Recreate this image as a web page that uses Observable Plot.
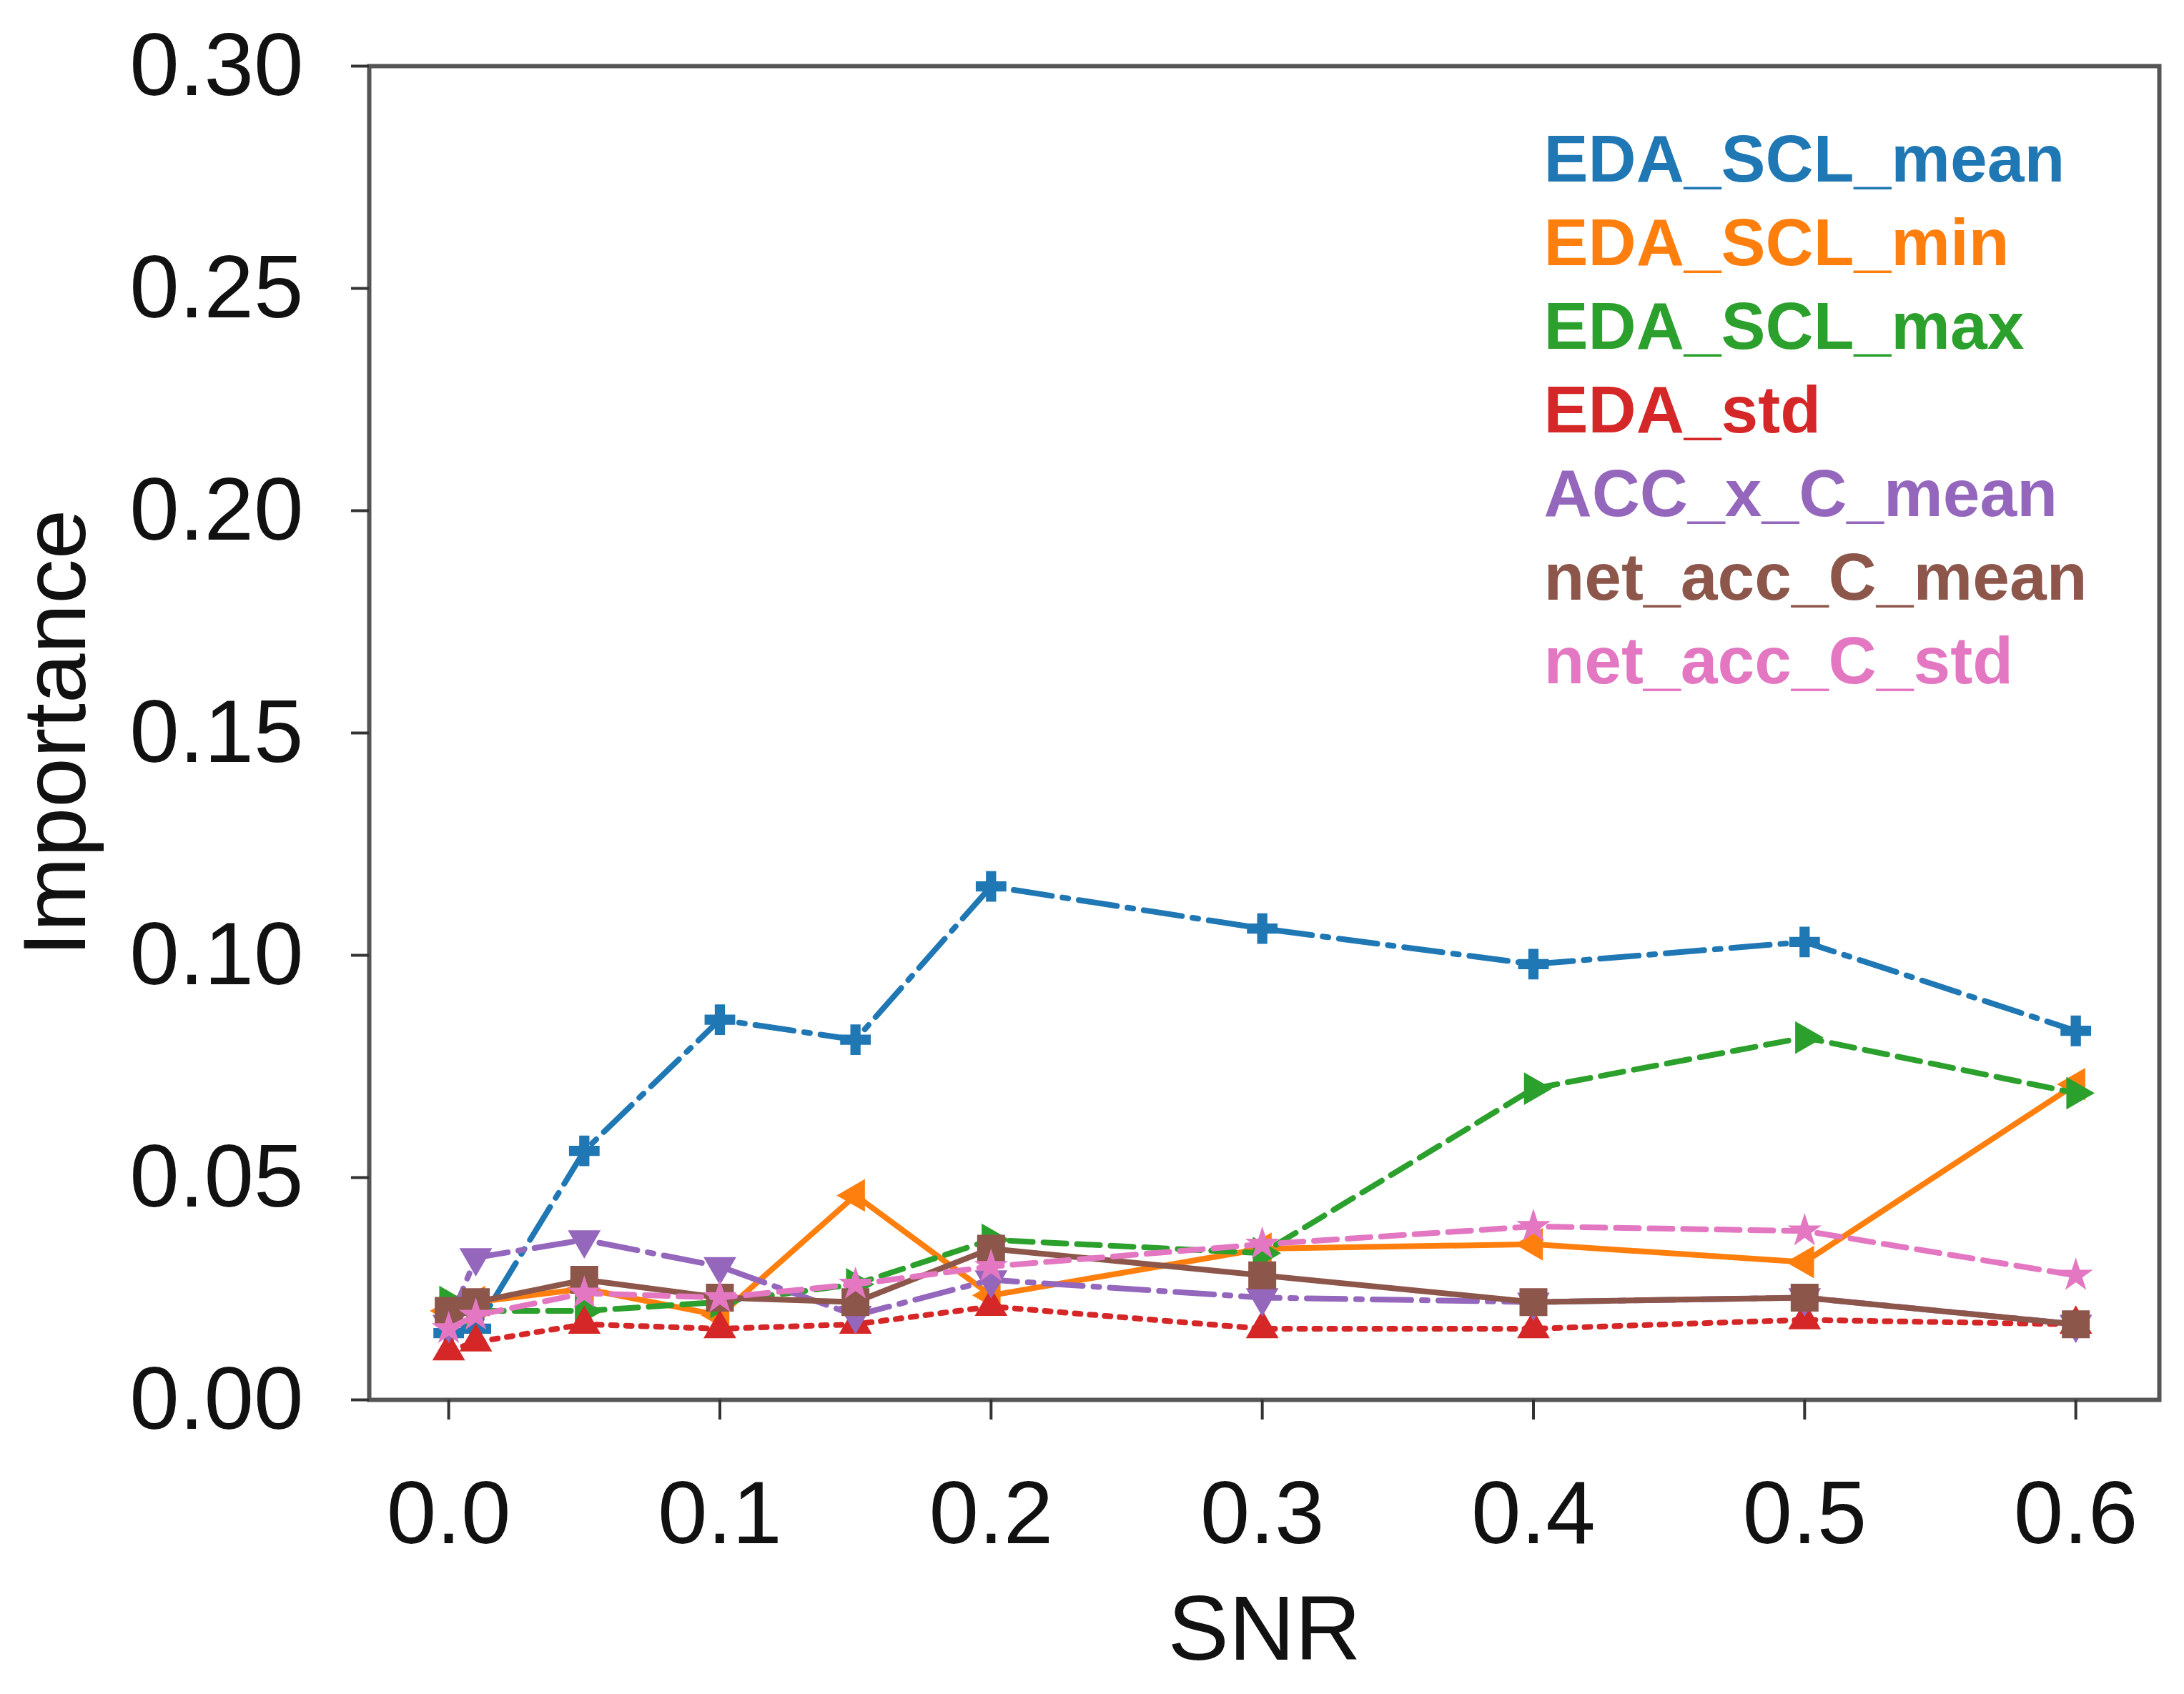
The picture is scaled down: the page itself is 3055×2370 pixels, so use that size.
<!DOCTYPE html>
<html>
<head>
<meta charset="utf-8">
<script src="https://cdn.jsdelivr.net/npm/d3@7"></script>
<script src="https://cdn.jsdelivr.net/npm/@observablehq/plot@0.6"></script>
<style>
  body { margin: 0; background: #fff; }
</style>
</head>
<body>
<div id="chart"></div>
<script>
// SNR levels on the x axis
const snr = [0, 0.01, 0.05, 0.1, 0.15, 0.2, 0.3, 0.4, 0.5, 0.6];

const seriesNames = ["EDA_SCL_mean", "EDA_SCL_min", "EDA_SCL_max", "EDA_std",
  "ACC_x_C_mean", "net_acc_C_mean", "net_acc_C_std"];

// importance values
const EDA_SCL_mean   = [0.015, 0.016, 0.056, 0.0855, 0.081, 0.1155, 0.106, 0.098, 0.103, 0.083];
const EDA_SCL_min    = [0.020, 0.022, 0.025, 0.019, 0.046, 0.0235, 0.034, 0.035, 0.031, 0.071];
const EDA_SCL_max    = [0.022, 0.020, 0.020, 0.022, 0.026, 0.036, 0.033, 0.070, 0.0815, 0.069];
const EDA_std        = [0.011, 0.013, 0.017, 0.016, 0.017, 0.021, 0.016, 0.016, 0.018, 0.017];
const ACC_x_C_mean   = [0.017, 0.032, 0.036, 0.030, 0.019, 0.027, 0.023, 0.022, 0.023, 0.017];
const net_acc_C_mean = [0.020, 0.022, 0.027, 0.023, 0.022, 0.034, 0.028, 0.022, 0.023, 0.017];
const net_acc_C_std  = [0.016, 0.019, 0.024, 0.023, 0.026, 0.030, 0.035, 0.039, 0.038, 0.028];

const values = [EDA_SCL_mean, EDA_SCL_min, EDA_SCL_max, EDA_std,
  ACC_x_C_mean, net_acc_C_mean, net_acc_C_std];

const xTicks = [0, 0.1, 0.2, 0.3, 0.4, 0.5, 0.6];
const yTicks = [0, 0.05, 0.10, 0.15, 0.20, 0.25, 0.30];

// styles (matplotlib tab10 look)
const colors = ["#1f77b4", "#ff7f0e", "#2ca02c", "#d62728", "#9467bd", "#8c564b", "#e377c2"];
const dashes = ["54,15,8,15", null, "32,15", "8,13", "54,15,8,15", null, "32,15"];
const symbols = ["cross", "triangle", "triangle", "triangle", "triangle", "square", "star"];
const rotations = [0, -90, 90, 0, 180, 0, 0];
const radius = [18, 17, 17, 17, 17, 22, 15];

const rows = seriesNames.flatMap((name, i) =>
  snr.map((x, j) => ({series: name, snr: x, importance: values[i][j]})));

const marks = [
  Plot.frame({stroke: "#555", strokeWidth: 6}),
  Plot.axisX({ticks: xTicks, tickFormat: ".1f", tickSize: 28, tickPadding: 84,
    fontSize: 125, stroke: "#333", strokeWidth: 4, label: null}),
  Plot.axisY({ticks: yTicks, tickFormat: ".2f", tickSize: 25, tickPadding: 67,
    fontSize: 125, stroke: "#333", strokeWidth: 4, label: null})
];

seriesNames.forEach((name, i) => {
  const d = rows.filter(r => r.series === name);
  marks.push(Plot.line(d, {
    x: "snr", y: "importance", stroke: colors[i], strokeWidth: 8,
    strokeDasharray: dashes[i]
  }));
  marks.push(Plot.dot(d, {
    x: "snr", y: "importance", fill: colors[i], stroke: "none",
    symbol: symbols[i], rotate: rotations[i], r: radius[i]
  }));
});

// legend: coloured labels, no handles
seriesNames.forEach((name, i) => {
  marks.push(Plot.text([name], {
    text: d => d, frameAnchor: "top-left", textAnchor: "start", lineAnchor: "middle",
    dx: 1643, dy: 132 + 117 * i, fill: colors[i], fontSize: 93, fontWeight: "bold"
  }));
});

marks.push(Plot.text(["SNR"], {
  text: d => d, frameAnchor: "bottom", lineAnchor: "middle", dy: 323, fontSize: 128, fill: "#111"
}));
marks.push(Plot.text(["Importance"], {
  text: d => d, frameAnchor: "left", textAnchor: "middle", lineAnchor: "middle",
  rotate: -90, dx: -438, fontSize: 125, fill: "#111"
}));

const chart = Plot.plot({
  width: 3055,
  height: 2370,
  marginLeft: 516,
  marginRight: 35,
  marginTop: 92,
  marginBottom: 412,
  x: {domain: [-0.0293, 0.6308]},
  y: {domain: [0, 0.30]},
  style: {
    fontFamily: "'Liberation Sans', Arial, sans-serif",
    color: "#111",
    backgroundColor: "white"
  },
  marks
});

d3.select("#chart").append(() => chart);
</script>
</body>
</html>
